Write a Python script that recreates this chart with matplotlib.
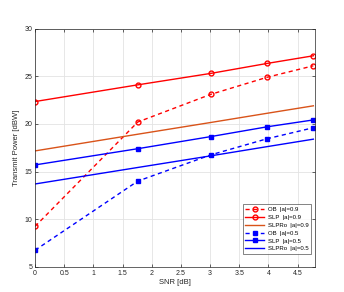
import matplotlib.pyplot as plt

plt.rcParams['font.family'] = ['Liberation Sans', 'DejaVu Sans']

# SNR points in dB
snr = [0, 1.76, 3.01, 3.98, 4.77]

# |a| = 0.9
ob_09 = [9.25, 20.2, 23.1, 24.9, 26.1]
slp_09 = [22.35, 24.1, 25.3, 26.35, 27.15]
slpro_09 = [17.17, 18.92, 20.15, 21.12, 21.9]

# |a| = 0.5
ob_05 = [6.75, 14.0, 16.75, 18.45, 19.6]
slp_05 = [15.7, 17.4, 18.67, 19.7, 20.42]
slpro_05 = [13.7, 15.43, 16.65, 17.62, 18.4]

labels = ['OB  |a|=0.9', 'SLP  |a|=0.9', 'SLPRo  |a|=0.9',
          'OB  |a|=0.5', 'SLP  |a|=0.5', 'SLPRo  |a|=0.5']

red = '#ff0000'
blue = '#0000ff'
orange = '#d95319'

fig = plt.figure(figsize=(3.44, 2.92), dpi=100)
ax = fig.add_axes([0.102, 0.086, 0.814, 0.816])

lw = 1.0
ax.plot(snr, ob_09, '--o', color=red, lw=lw, ms=3.5, mfc='none', mew=1.0,
        dashes=(3, 2.5), label=labels[0])
ax.plot(snr, slp_09, '-o', color=red, lw=lw, ms=3.5, mfc='none', mew=1.0, label=labels[1])
ax.plot(snr, slpro_09, '-', color=orange, lw=lw, label=labels[2])
ax.plot(snr, ob_05, '--s', color=blue, lw=lw, ms=3.2, mfc=blue, mew=1.0,
        dashes=(3, 2.5), label=labels[3])
ax.plot(snr, slp_05, '-s', color=blue, lw=lw, ms=3.2, mfc=blue, mew=1.0, label=labels[4])
ax.plot(snr, slpro_05, '-', color=blue, lw=lw, label=labels[5])

ax.set_xlim(0, 4.8)
ax.set_ylim(5, 30)
ax.set_xticks([0, 0.5, 1, 1.5, 2, 2.5, 3, 3.5, 4, 4.5])
ax.set_xticklabels(['0', '0.5', '1', '1.5', '2', '2.5', '3', '3.5', '4', '4.5'])
ax.set_yticks([5, 10, 15, 20, 25, 30])

ax.grid(True, color='#e3e3e3', lw=0.6)
ax.set_axisbelow(True)
ax.tick_params(direction='in', length=2.5, width=0.5, labelsize=5, colors='#262626',
               top=True, right=True, pad=2)
for s in ax.spines.values():
    s.set_color('#262626')
    s.set_linewidth(0.5)

ax.set_xlabel('SNR [dB]', fontsize=5.5, color='#262626', labelpad=2)
ax.set_ylabel('Transmit Power [dBW]', fontsize=5.5, color='#262626', labelpad=3)

leg = ax.legend(loc='lower right', bbox_to_anchor=(0.986, 0.055), fontsize=4.3,
                frameon=True, fancybox=False, edgecolor='#262626', handlelength=3.2,
                borderpad=0.4, labelspacing=0.45, handletextpad=0.6, borderaxespad=0)
leg.get_frame().set_linewidth(0.5)

fig.savefig('out.png', dpi=100)
